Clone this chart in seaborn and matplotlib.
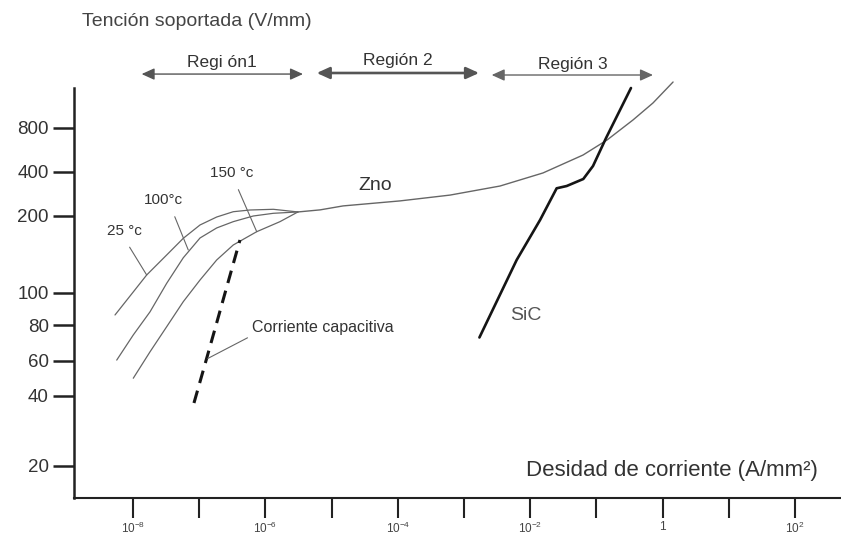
import numpy as np
import pandas as pd
import matplotlib
matplotlib.use("Agg")
import matplotlib.pyplot as plt
import seaborn as sns
from matplotlib.ticker import FixedLocator, FixedFormatter, NullLocator

# ---------------------------------------------------------------------------
# Data: current density J (A/mm^2) versus withstand field V (V/mm)
# ---------------------------------------------------------------------------
ZNO_J = [3.1e-6, 6.7e-6, 1.49e-5, 1.08e-4, 6.15e-4, 3.50e-3, 1.56e-2,
         6.28e-2, 0.145, 0.357, 0.716, 1.44]
ZNO_V = [213, 220, 234, 253, 277, 319, 391, 520, 661, 909, 1192, 1665]

T25_J = [5.35e-9, 9.55e-9, 1.61e-8, 3.23e-8, 5.75e-8, 1.03e-7, 1.84e-7,
         3.27e-7, 5.85e-7, 1.32e-6, 3.1e-6]
T25_V = [85.7, 99.0, 117.2, 140.5, 163.4, 184.4, 198.2, 213.8, 219.6, 222.0, 213]

T100_J = [5.68e-9, 1.01e-8, 1.81e-8, 3.23e-8, 5.75e-8, 1.03e-7, 1.84e-7,
          3.27e-7, 6.56e-7, 1.32e-6, 3.1e-6]
T100_V = [60.2, 73.8, 87.6, 108.7, 137.0, 163.9, 179.5, 190.0, 200.0, 208.6, 213]

T150_J = [1.01e-8, 1.81e-8, 3.23e-8, 5.75e-8, 1.03e-7, 1.84e-7, 3.27e-7,
          7.40e-7, 1.66e-6, 3.1e-6]
T150_V = [49.0, 64.4, 78.9, 93.9, 112.0, 134.3, 153.8, 173.5, 190.0, 213]

CAP_J = [8.34e-8, 1.27e-7, 1.80e-7, 2.47e-7, 4.13e-7]
CAP_V = [37.3, 60, 80, 100, 160.9]

SIC_J = [1.71e-3, 6.25e-3, 1.41e-2, 2.51e-2, 3.56e-2, 6.34e-2, 8.89e-2, 0.140, 0.333]
SIC_V = [72.3, 134.3, 192.9, 307.9, 319.1, 355.9, 436.6, 682.3, 1513]

X_TICKS = [1e-8, 1e-7, 1e-6, 1e-5, 1e-4, 1e-3, 1e-2, 1e-1, 1, 1e1, 1e2]
X_TICK_LABELS = [r"$10^{-8}$", "", r"$10^{-6}$", "", r"$10^{-4}$", "",
                 r"$10^{-2}$", "", "1", "", r"$10^{2}$"]
Y_TICKS = [20, 40, 60, 80, 100, 200, 400, 800]
Y_TICK_LABELS = ["20", "40", "60", "80", "100", "200", "400", "800"]

REGION_LABELS = ["Regi ón1", "Región 2", "Región 3"]
REGION_BOUNDS = [(1.35e-8, 3.70e-6), (5.96e-6, 1.69e-3), (2.62e-3, 0.716)]

# ---------------------------------------------------------------------------
# Voltage axis: hand-spaced graduations (log-like, compressed above 200)
# ---------------------------------------------------------------------------
AXIS_LOGV = np.log10([10, 20, 40, 60, 80, 100, 200, 400, 800, 3200])
AXIS_H = np.array([-37, 32.5, 102, 137.5, 173, 205.5, 282, 326.5, 370, 457])
AXIS_SPAN = 410


def v_forward(v):
    v = np.asarray(v, dtype=float)
    return np.interp(np.log10(np.clip(v, 1e-6, None)), AXIS_LOGV, AXIS_H)


def v_inverse(h):
    return 10 ** np.interp(np.asarray(h, dtype=float), AXIS_H, AXIS_LOGV)


sns.set_theme(style="white")
plt.rcParams["font.family"] = ["Liberation Sans", "DejaVu Sans"]
plt.rcParams["mathtext.fontset"] = "custom"
plt.rcParams["mathtext.rm"] = "Liberation Sans"
plt.rcParams["mathtext.it"] = "Liberation Sans:italic"

fig = plt.figure(figsize=(8.41, 5.44), dpi=100)
ax = fig.add_axes([74 / 841, 46 / 544, 767 / 841, 410 / 544])
ax.set_xscale("log")
ax.set_yscale("function", functions=(v_forward, v_inverse))
ax.set_xlim(10 ** -8.891, 10 ** 2.695)
ax.set_ylim(float(v_inverse(0)), float(v_inverse(AXIS_SPAN)))

curves = [
    (T25_J, T25_V, "#666666", 0.9),
    (T100_J, T100_V, "#666666", 0.9),
    (T150_J, T150_V, "#666666", 0.9),
    (ZNO_J, ZNO_V, "#666666", 1.0),
    (SIC_J, SIC_V, "#151515", 1.9),
]
for xs, ys, col, lw in curves:
    df = pd.DataFrame({"J": xs, "V": ys})
    sns.lineplot(data=df, x="J", y="V", ax=ax, sort=False, estimator=None,
                 color=col, linewidth=lw)
    ax.lines[-1].set_clip_on(False)
    ax.lines[-1].set_solid_joinstyle("round")

cap_df = pd.DataFrame({"J": CAP_J, "V": CAP_V})
sns.lineplot(data=cap_df, x="J", y="V", ax=ax, sort=False, estimator=None,
             color="#151515", linewidth=2.2)
ax.lines[-1].set_dashes([4.2, 2.6])

# Axes styling
for side in ("top", "right"):
    ax.spines[side].set_visible(False)
ax.spines["left"].set_color("#222222")
ax.spines["left"].set_linewidth(1.8)
ax.spines["bottom"].set_color("#222222")
ax.spines["bottom"].set_linewidth(1.5)

ax.xaxis.set_major_locator(FixedLocator(X_TICKS))
ax.xaxis.set_major_formatter(FixedFormatter(X_TICK_LABELS))
ax.xaxis.set_minor_locator(NullLocator())
ax.yaxis.set_major_locator(FixedLocator(Y_TICKS))
ax.yaxis.set_major_formatter(FixedFormatter(Y_TICK_LABELS))
ax.yaxis.set_minor_locator(NullLocator())
ax.tick_params(axis="x", direction="out", length=14.5, width=1.5, pad=2,
               labelsize=8.5, labelcolor="#444444", color="#222222", bottom=True)
ax.tick_params(axis="y", direction="out", length=15, width=1.8, pad=3,
               labelsize=13.5, labelcolor="#333333", color="#222222", left=True)
ax.set_xlabel("")
ax.set_ylabel("")
ax.grid(False)

# Titles of the axes
fig.text(82 / 841, 1 - 21 / 544, "Tención soportada (V/mm)", ha="left",
         va="center", fontsize=14, color="#444444")
ax.text(0.970, 0.066, "Desidad de corriente (A/mm²)", transform=ax.transAxes,
        ha="right", va="center", fontsize=16, color="#333333")

# Curve labels with leader lines
leader = dict(arrowstyle="-", color="#666666", lw=0.8, shrinkA=5, shrinkB=0)
ax.annotate("25 °c", xy=(1.61e-8, 117.2), xytext=(7.31e-9, 174.6),
            ha="center", va="center", fontsize=11, color="#333333",
            arrowprops={**leader, "relpos": (0.5, 0.0)})
ax.annotate("100°c", xy=(6.84e-8, 147.0), xytext=(2.84e-8, 256.6),
            ha="center", va="center", fontsize=11, color="#333333",
            arrowprops={**leader, "relpos": (0.7, 0.0)})
ax.annotate("150 °c", xy=(7.40e-7, 173.5), xytext=(3.13e-7, 390.8),
            ha="center", va="center", fontsize=11, color="#333333",
            arrowprops={**leader, "relpos": (0.55, 0.0)})
ax.annotate("Corriente capacitiva", xy=(1.35e-7, 61), xytext=(6.28e-7, 78.1),
            ha="left", va="center", fontsize=11.5, color="#333333",
            arrowprops={**leader, "relpos": (0.0, 0.0), "shrinkA": 1})
ax.text(4.53e-5, 324.1, "Zno", ha="center", va="center", fontsize=14,
        color="#333333")
ax.text(8.65e-3, 85.1, "SiC", ha="center", va="center", fontsize=14,
        color="#555555")

# Conduction regions above the plot
xtrans = ax.get_xaxis_transform()
arrow_y = [1.034, 1.0366, 1.0317]
text_y = [1.0634, 1.0659, 1.0561]
arrow_lw = [1.0, 1.9, 1.0]
arrow_col = ["#555555", "#555555", "#666666"]
for label, (x0, x1), ay, ty, lw, col in zip(REGION_LABELS, REGION_BOUNDS,
                                            arrow_y, text_y, arrow_lw, arrow_col):
    ax.annotate("", xy=(x1, ay), xytext=(x0, ay), xycoords=xtrans,
                textcoords=xtrans, annotation_clip=False,
                arrowprops=dict(arrowstyle="<|-|>,head_length=0.55,head_width=0.25",
                                lw=lw, color=col, shrinkA=0, shrinkB=0,
                                mutation_scale=14))
    xc = np.sqrt(x0 * x1)
    ax.text(xc, ty, label, transform=xtrans, ha="center", va="center",
            fontsize=12.5, color="#333333")

fig.savefig("out.png", dpi=100)
